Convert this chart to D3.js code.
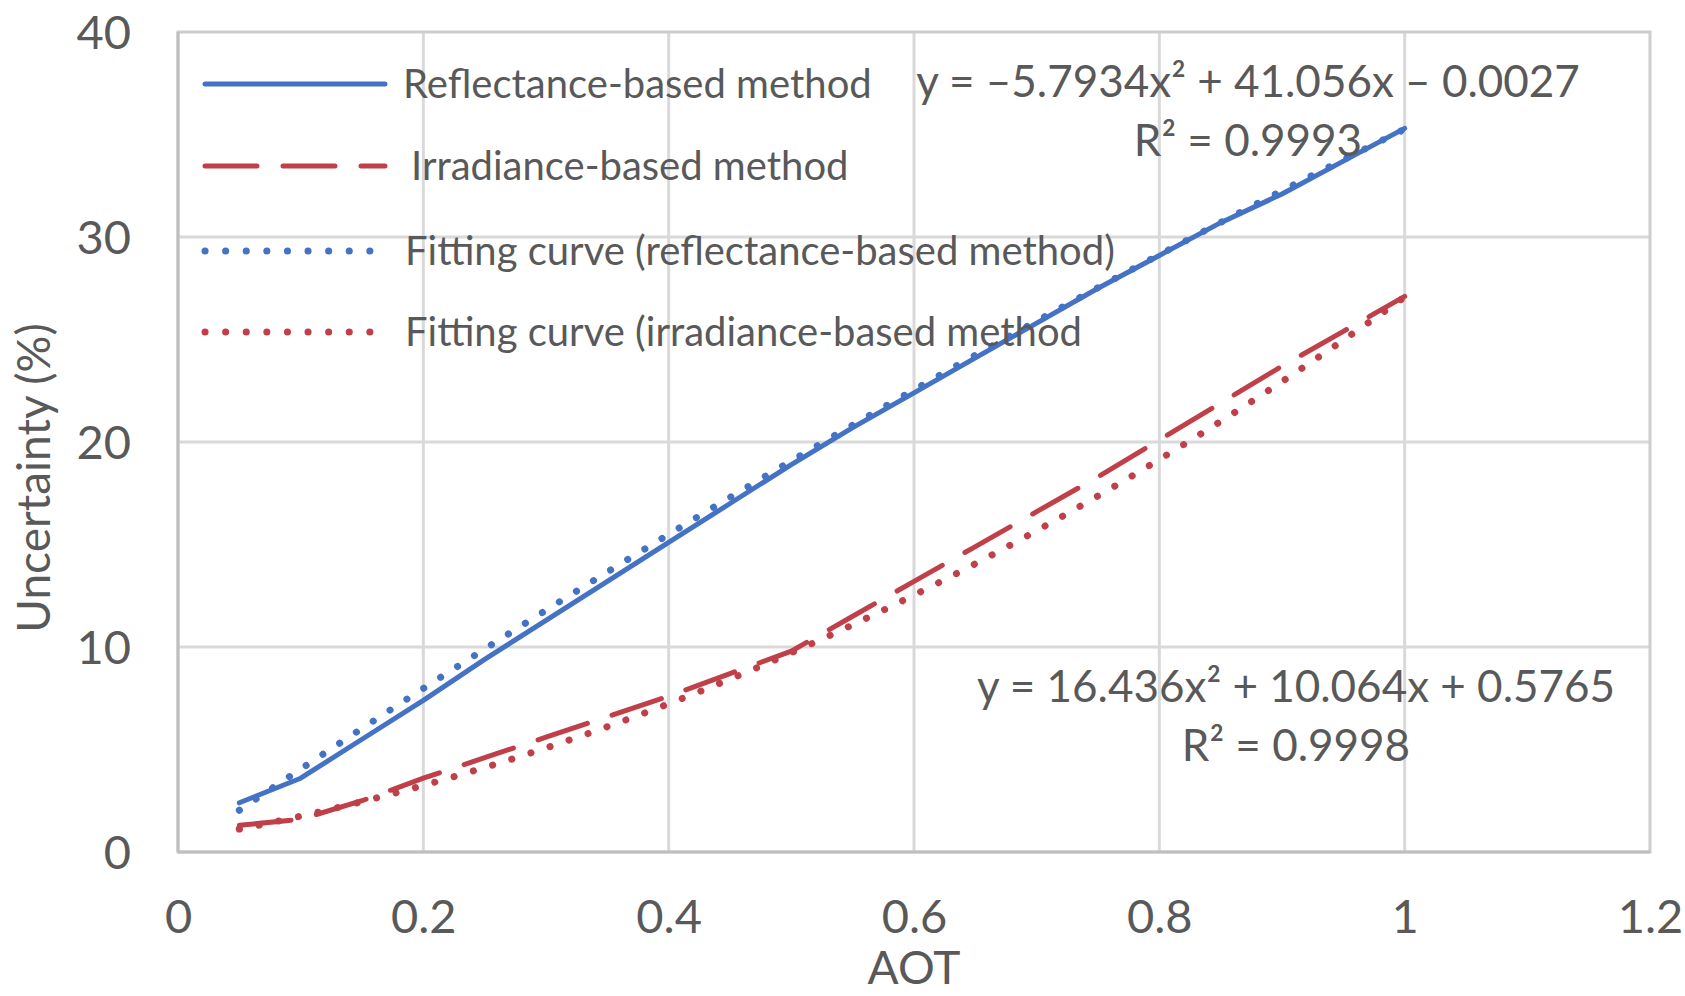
<!DOCTYPE html>
<html>
<head>
<meta charset="utf-8">
<script src="https://cdn.jsdelivr.net/npm/d3@7"></script>
<style>
  html, body { margin: 0; padding: 0; background: #ffffff; }
  svg text { font-family: Lato, "Open Sans", sans-serif; fill: #595959; }
</style>
</head>
<body>
<svg id="chart" width="1685" height="996"></svg>
<script>
// AOT sample points and the uncertainty of each retrieval method (%)
const aot = [0.05, 0.10, 0.15, 0.20, 0.25, 0.30, 0.35, 0.40, 0.45, 0.50,
             0.55, 0.60, 0.65, 0.70, 0.75, 0.80, 0.85, 0.90, 0.95, 1.00];
const reflectance = [2.4, 3.6, 5.5, 7.4, 9.4, 11.3, 13.2, 15.1, 17.0, 18.9,
                     20.7, 22.4, 24.1, 25.8, 27.5, 29.1, 30.7, 32.1, 33.7, 35.3];
const irradiance = [1.3, 1.6, 2.5, 3.6, 4.6, 5.6, 6.6, 7.6, 8.7, 9.8,
                    11.5, 13.2, 14.9, 16.6, 18.3, 20.1, 21.9, 23.7, 25.4, 27.1];

// Quadratic trendline coefficients [a, b, c] for y = a x^2 + b x + c
const fitReflectance = [-5.7934, 41.056, -0.0027];
const fitIrradiance = [16.436, 10.064, 0.5765];
const r2Reflectance = "0.9993";
const r2Irradiance = "0.9998";

const xTicks = [0, 0.2, 0.4, 0.6, 0.8, 1, 1.2];
const yTicks = [0, 10, 20, 30, 40];

const legendLabels = [
  "Reflectance-based method",
  "Irradiance-based method",
  "Fitting curve (reflectance-based method)",
  "Fitting curve (irradiance-based method"
];

const BLUE = "#4472c4";
const RED = "#c0404a";

const svg = d3.select("#chart");
const plotLeft = 178, plotRight = 1650, plotTop = 32, plotBottom = 852;

const x = d3.scaleLinear().domain([0, 1.2]).range([plotLeft, plotRight]);
const y = d3.scaleLinear().domain([0, 40]).range([plotBottom, plotTop]);

// grid
const grid = svg.append("g");
grid.selectAll("line.v").data(xTicks.slice(1, -1)).join("line")
  .attr("x1", d => x(d)).attr("x2", d => x(d))
  .attr("y1", plotTop).attr("y2", plotBottom)
  .attr("stroke", "#d9d9d9").attr("stroke-width", 3);
grid.selectAll("line.h").data(yTicks.slice(1, -1)).join("line")
  .attr("x1", plotLeft).attr("x2", plotRight)
  .attr("y1", d => y(d)).attr("y2", d => y(d))
  .attr("stroke", "#d9d9d9").attr("stroke-width", 3);

// plot frame
svg.append("rect")
  .attr("x", plotLeft).attr("y", plotTop)
  .attr("width", plotRight - plotLeft).attr("height", plotBottom - plotTop)
  .attr("fill", "none").attr("stroke", "#cdcdcd").attr("stroke-width", 3);
svg.append("line").attr("x1", plotLeft).attr("x2", plotRight).attr("y1", plotBottom).attr("y2", plotBottom)
  .attr("stroke", "#bfbfbf").attr("stroke-width", 3);
svg.append("line").attr("x1", plotLeft).attr("x2", plotLeft).attr("y1", plotTop).attr("y2", plotBottom)
  .attr("stroke", "#bfbfbf").attr("stroke-width", 3);

// axes (labels only; lines are drawn by the frame)
const xAxis = svg.append("g").attr("transform", `translate(0,${plotBottom})`)
  .call(d3.axisBottom(x).tickValues(xTicks).tickFormat(d3.format("~g")).tickSize(0).tickPadding(0));
xAxis.select(".domain").remove();
xAxis.selectAll("text").attr("font-size", 47).attr("dy", null).attr("y", 81)
  .style("font-family", "Lato, 'Open Sans', sans-serif").attr("fill", "#595959");

const yAxis = svg.append("g").attr("transform", `translate(${plotLeft},0)`)
  .call(d3.axisLeft(y).tickValues(yTicks).tickSize(0).tickPadding(0));
yAxis.select(".domain").remove();
yAxis.selectAll("text").attr("font-size", 47).attr("x", -47).attr("dy", "0.36em")
  .style("font-family", "Lato, 'Open Sans', sans-serif").attr("fill", "#595959");

svg.append("text").attr("x", x(0.6)).attr("y", 984).attr("text-anchor", "middle")
  .attr("font-size", 46).text("AOT");
svg.append("text").attr("transform", "translate(50,478) rotate(-90)")
  .attr("text-anchor", "middle").attr("font-size", 46).text("Uncertainty (%)");

// series
const line = d3.line().x(d => x(d[0])).y(d => y(d[1]));
const quad = c => v => c[0] * v * v + c[1] * v + c[2];
const fitPts = c => {
  const f = quad(c), [x0, x1] = d3.extent(aot);
  return d3.range(0, 201).map(i => { const v = x0 + (x1 - x0) * i / 200; return [v, f(v)]; });
};

const plot = svg.append("g");
plot.append("path").datum(aot.map((v, i) => [v, irradiance[i]])).attr("d", line)
  .attr("fill", "none").attr("stroke", RED).attr("stroke-width", 5)
  .attr("stroke-linecap", "round").attr("stroke-dasharray", "52 26");
plot.append("path").datum(fitPts(fitIrradiance)).attr("d", line)
  .attr("fill", "none").attr("stroke", RED).attr("stroke-width", 7)
  .attr("stroke-linecap", "round").attr("stroke-dasharray", "0.1 20");
plot.append("path").datum(aot.map((v, i) => [v, reflectance[i]])).attr("d", line)
  .attr("fill", "none").attr("stroke", BLUE).attr("stroke-width", 5)
  .attr("stroke-linejoin", "round").attr("stroke-linecap", "round");
plot.append("path").datum(fitPts(fitReflectance)).attr("d", line)
  .attr("fill", "none").attr("stroke", BLUE).attr("stroke-width", 7)
  .attr("stroke-linecap", "round").attr("stroke-dasharray", "0.1 20");

// legend
const legendStyles = [
  { color: BLUE, w: 5, dash: null, y: 84, tx: 403, x2: 385 },
  { color: RED, w: 5, dash: "52 26", y: 166, tx: 411, x2: 385 },
  { color: BLUE, w: 7, dash: "0.1 20.5", y: 251, tx: 405, x2: 377 },
  { color: RED, w: 7, dash: "0.1 20.5", y: 332, tx: 405, x2: 377 }
];
const legend = svg.append("g");
legendLabels.forEach((label, i) => {
  const s = legendStyles[i];
  legend.append("line")
    .attr("x1", 205).attr("x2", s.x2)
    .attr("y1", s.y).attr("y2", s.y)
    .attr("stroke", s.color).attr("stroke-width", s.w)
    .attr("stroke-linecap", "round")
    .attr("stroke-dasharray", s.dash);
  legend.append("text").attr("x", s.tx).attr("y", s.y).attr("dy", "0.36em")
    .attr("font-size", 40).text(label);
});

// trendline equations
const fmtEq = c => {
  const term = (v, suffix, first) => {
    const sign = v < 0 ? "\u2013" : "+";
    const mag = Math.abs(v);
    return first ? `${v < 0 ? "\u2013" : ""}${mag}${suffix}` : ` ${sign} ${mag}${suffix}`;
  };
  return "y = " + term(c[0], "x\u00b2", true) + term(c[1], "x", false) + term(c[2], "", false);
};
const eqs = [
  { c: fitReflectance, r2: r2Reflectance, cx: 1248, y1: 81, y2: 140 },
  { c: fitIrradiance, r2: r2Irradiance, cx: 1296, y1: 686, y2: 745 }
];
eqs.forEach(e => {
  svg.append("text").attr("x", e.cx).attr("y", e.y1).attr("dy", "0.36em")
    .attr("text-anchor", "middle").attr("font-size", 44).text(fmtEq(e.c));
  svg.append("text").attr("x", e.cx).attr("y", e.y2).attr("dy", "0.36em")
    .attr("text-anchor", "middle").attr("font-size", 44).text(`R\u00b2 = ${e.r2}`);
});
</script>
</body>
</html>
